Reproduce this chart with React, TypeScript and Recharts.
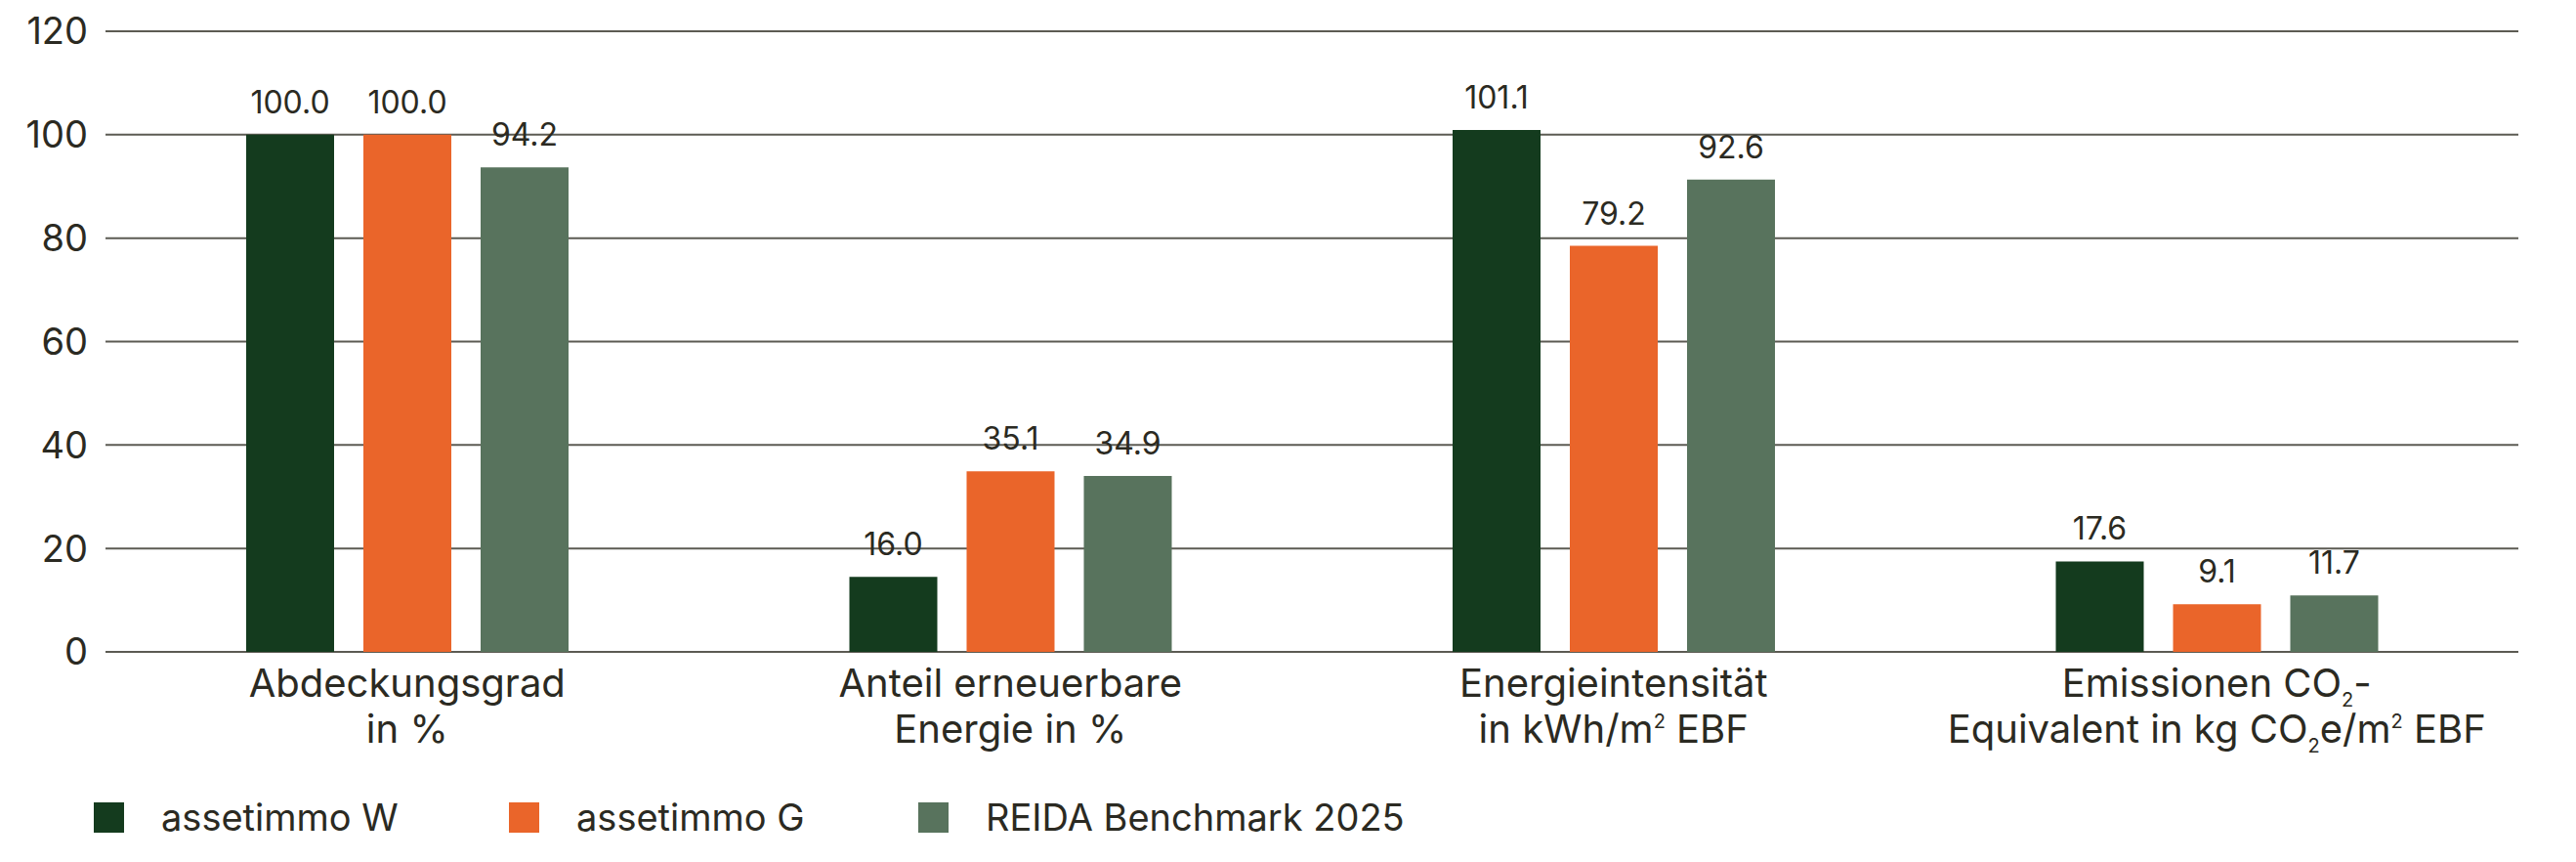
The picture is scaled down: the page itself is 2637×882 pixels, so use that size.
import { BarChart, Bar, XAxis, YAxis, CartesianGrid, Legend, LabelList } from "recharts";

const categories = [
  "Abdeckungsgrad in %",
  "Anteil erneuerbare Energie in %",
  "Energieintensität in kWh/m² EBF",
  "Emissionen CO₂-Equivalent in kg CO₂e/m² EBF",
];

// bar heights as drawn, labels as printed
const assetimmoW = [100.0, 14.5, 100.9, 17.5];
const assetimmoWLabels = ["100.0", "16.0", "101.1", "17.6"];
const assetimmoG = [100.0, 34.9, 78.5, 9.2];
const assetimmoGLabels = ["100.0", "35.1", "79.2", "9.1"];
const benchmark = [93.7, 34.0, 91.3, 10.9];
const benchmarkLabels = ["94.2", "34.9", "92.6", "11.7"];

const yTicks = [0, 20, 40, 60, 80, 100, 120];

const seriesNames = ["assetimmo W", "assetimmo G", "REIDA Benchmark 2025"];
const seriesColors = ["#143b1e", "#ea652a", "#58735d"];

type Seg = { t: string; sub?: boolean; sup?: boolean };

const tickLines: Seg[][][] = [
  [[{ t: "Abdeckungsgrad" }], [{ t: "in %" }]],
  [[{ t: "Anteil erneuerbare" }], [{ t: "Energie in %" }]],
  [[{ t: "Energieintensität" }], [{ t: "in kWh/m" }, { t: "2", sup: true }, { t: " EBF" }]],
  [
    [{ t: "Emissionen CO" }, { t: "2", sub: true }, { t: "-" }],
    [
      { t: "Equivalent in kg CO" },
      { t: "2", sub: true },
      { t: "e/m" },
      { t: "2", sup: true },
      { t: " EBF" },
    ],
  ],
];

const rows = categories.map((name, i) => ({
  name,
  w: assetimmoW[i],
  wLabel: assetimmoWLabels[i],
  g: assetimmoG[i],
  gLabel: assetimmoGLabels[i],
  r: benchmark[i],
  rLabel: benchmarkLabels[i],
}));

const FONT = "Inter, 'Noto Sans', sans-serif";
const TEXT = "#2b2a22";

function CategoryTick(props: any) {
  const { x, y, payload } = props;
  const idx = categories.indexOf(payload.value);
  const lines = tickLines[idx] || [[{ t: payload.value }]];
  return (
    <g>
      {lines.map((segs, li) => {
        let shift = 0;
        return (
          <text
            key={li}
            x={x}
            y={y + 38 + li * 47}
            textAnchor="middle"
            fill={TEXT}
            fontSize={40}
            fontFamily={FONT}
          >
            {segs.map((s, si) => {
              const target = s.sub ? 10 : s.sup ? -15 : 0;
              const dy = target - shift;
              shift = target;
              return (
                <tspan key={si} dy={dy} fontSize={s.sub || s.sup ? 20 : 40}>
                  {s.t}
                </tspan>
              );
            })}
          </text>
        );
      })}
    </g>
  );
}

function LegendContent() {
  const widths = [425, 419, undefined];
  return (
    <div
      style={{
        display: "flex",
        alignItems: "center",
        height: 44,
        paddingLeft: 88,
        fontFamily: FONT,
        fontSize: 38,
        color: TEXT,
      }}
    >
      {seriesNames.map((n, i) => (
        <div key={n} style={{ display: "flex", alignItems: "center", width: widths[i] }}>
          <span style={{ display: "inline-block", width: 31, height: 31, background: seriesColors[i], marginRight: 38 }} />
          <span>{n}</span>
        </div>
      ))}
    </div>
  );
}

export default function App() {
  const labelStyle = { fill: TEXT, fontSize: 32, fontFamily: FONT };
  return (
    <div style={{ width: 2621, height: 874, fontFamily: FONT }}>
      <BarChart
        width={2621}
        height={874}
        data={rows}
        margin={{ top: 24, right: 51, bottom: 24, left: 0 }}
        barSize={90}
        barGap={30}
      >
        <CartesianGrid vertical={false} stroke="#5c5b53" strokeWidth={2} />
        <XAxis
          dataKey="name"
          axisLine={false}
          tickLine={false}
          height={147}
          interval={0}
          tick={(p: any) => <CategoryTick {...p} />}
        />
        <YAxis
          type="number"
          domain={[0, 120]}
          ticks={yTicks}
          width={100}
          axisLine={false}
          tickLine={false}
          tickMargin={12}
          tick={{ fill: TEXT, fontSize: 38, fontFamily: FONT }}
        />
        <Legend verticalAlign="bottom" align="left" content={() => <LegendContent />} />
        <Bar dataKey="w" name={seriesNames[0]} fill={seriesColors[0]} isAnimationActive={false}>
          <LabelList dataKey="wLabel" position="top" offset={22} {...labelStyle} />
        </Bar>
        <Bar dataKey="g" name={seriesNames[1]} fill={seriesColors[1]} isAnimationActive={false}>
          <LabelList dataKey="gLabel" position="top" offset={22} {...labelStyle} />
        </Bar>
        <Bar dataKey="r" name={seriesNames[2]} fill={seriesColors[2]} isAnimationActive={false}>
          <LabelList dataKey="rLabel" position="top" offset={22} {...labelStyle} />
        </Bar>
      </BarChart>
    </div>
  );
}
